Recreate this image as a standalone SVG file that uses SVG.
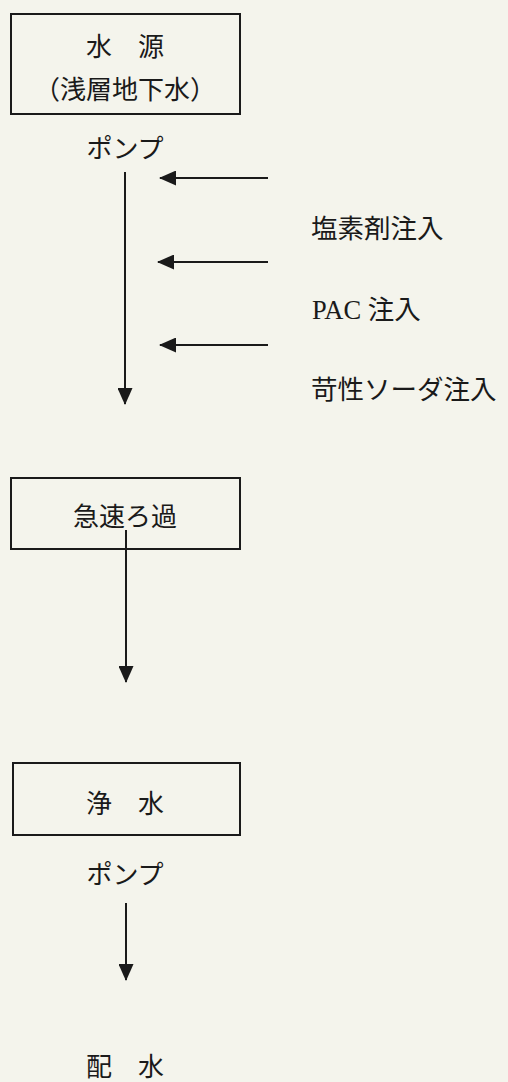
<svg xmlns="http://www.w3.org/2000/svg" width="508" height="1082" viewBox="0 0 508 1082">
<style>
.t{font-family:"Liberation Serif","Noto Sans CJK JP",serif;font-size:26px;fill:#1a1a1a}
.r{font-size:26.5px}
.box{fill:none;stroke:#1a1a1a;stroke-width:2}
.ln{stroke:#1a1a1a;stroke-width:2;fill:none}
</style>
<defs>
<marker id="a" markerWidth="17" markerHeight="15" refX="16" refY="7.5" orient="auto" markerUnits="userSpaceOnUse" viewBox="0 0 17 15">
<path d="M0,0 L17,7.5 L0,15 z" fill="#1a1a1a"/>
</marker>
</defs>
<rect width="508" height="1082" fill="#f4f4ec"/>
<g id="source">
<rect class="box" x="11" y="14" width="229" height="100"/>
<text class="t" x="125" y="56" text-anchor="middle">水　源</text>
<text class="t" x="125" y="99" text-anchor="middle">（浅層地下水）</text>
</g>
<g id="pump1"><text class="t" x="125" y="158" text-anchor="middle">ポンプ</text></g>
<g id="chlorine"><text class="t r" x="311" y="238">塩素剤注入</text></g>
<g id="pac"><text class="t r" x="312" y="319">PAC 注入</text></g>
<g id="soda"><text class="t r" x="311" y="399">苛性ソーダ注入</text></g>
<g id="filter">
<rect class="box" x="11" y="478" width="229" height="71"/>
<text class="t" x="125" y="526" text-anchor="middle">急速ろ過</text>
</g>
<g id="clean">
<rect class="box" x="13" y="763" width="227" height="72"/>
<text class="t" x="125" y="813" text-anchor="middle">浄　水</text>
</g>
<g id="pump2"><text class="t" x="125" y="884" text-anchor="middle">ポンプ</text></g>
<g id="dist"><text class="t" x="125" y="1076" text-anchor="middle">配　水</text></g>
<g id="connectors">
<line class="ln" x1="125" y1="172" x2="125" y2="404" marker-end="url(#a)"/>
<line class="ln" x1="268" y1="178" x2="160" y2="178" marker-end="url(#a)"/>
<line class="ln" x1="268" y1="262" x2="158" y2="262" marker-end="url(#a)"/>
<line class="ln" x1="268" y1="345" x2="160" y2="345" marker-end="url(#a)"/>
<line class="ln" x1="126" y1="530" x2="126" y2="682" marker-end="url(#a)"/>
<line class="ln" x1="126" y1="903" x2="126" y2="980" marker-end="url(#a)"/>
</g>
</svg>
